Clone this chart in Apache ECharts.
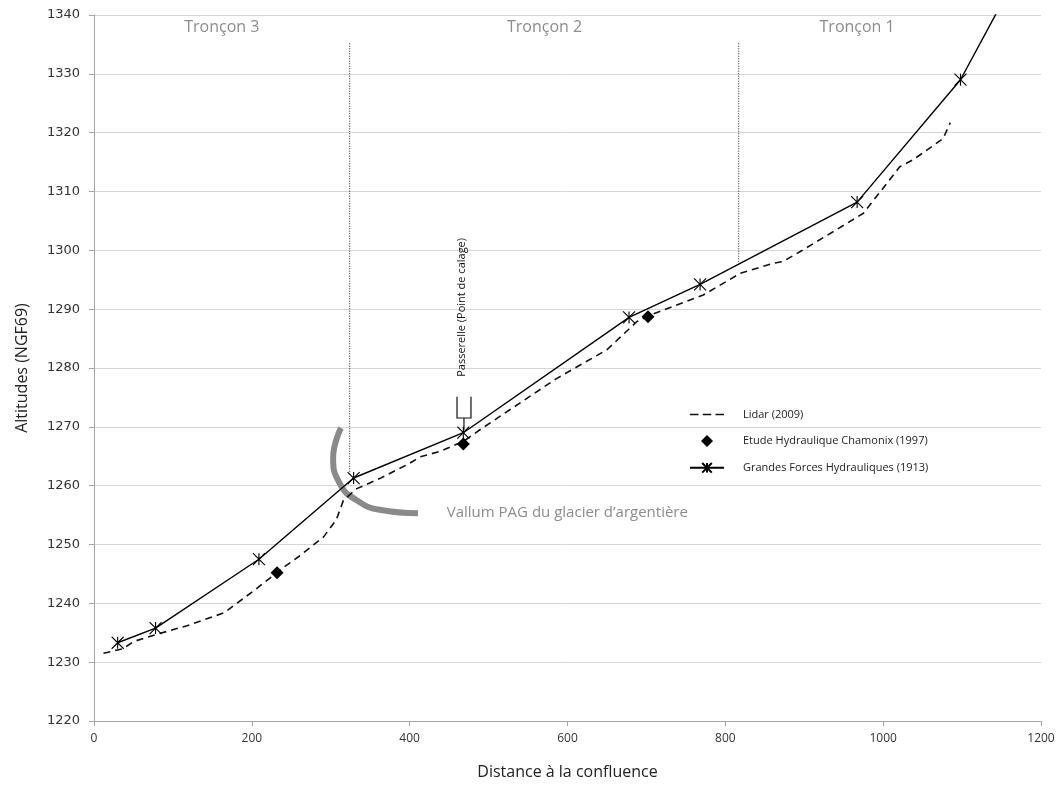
<!DOCTYPE html>
<html><head><meta charset="utf-8">
<script src="https://cdn.jsdelivr.net/npm/echarts@6/dist/echarts.min.js"></script>
<style>html,body{margin:0;padding:0;background:#fff}#c{width:1059px;height:785px}</style>
</head><body><div id="c"></div>
<script>
// ---- data ----
const lidar = [[12,1231.5],[37,1232.3],[50,1233.5],[84,1234.9],[118,1236.2],[165,1238.4],[206,1242.5],[236,1245.7],[260,1248],[291,1251.3],[307,1254.2],[316,1257.5],[333,1259.5],[362,1261.2],[400,1263.8],[413,1264.9],[438,1265.8],[468,1267.5],[489,1269.5],[586,1278.2],[650,1283.1],[688,1287.9],[705,1289],[772,1292.4],[819,1296.1],[861,1297.8],[873,1298.1],[895,1299.8],[937,1303.2],[975,1306.3],[1021,1314.2],[1038,1315.4],[1076,1319],[1085,1321.7]];
const etude = [[232,1245.2],[468,1267.1],[702,1288.7]];
const gfh = [[30,1233.3],[78,1235.8],[209,1247.5],[329,1261.3],[468,1269],[678,1288.6],[768,1294.2],[967,1308.2],[1098,1329]];
const gfhEnd = [1143,1340.2];
const divider1 = [[324,1335.2],[324,1262]];
const divider2 = [[817,1335.2],[817,1297.9]];
const vallumArc = [[313,1269.8],[303,1264.7],[311.7,1260.3],[332,1257.6],[362,1255.9],[410.5,1255.3]];
const troncons = [["Tronçon 3",162,1337.9],["Tronçon 2",571,1337.9],["Tronçon 1",967,1337.9]];
const seriesNames = ["Lidar (2009)","Etude Hydraulique Chamonix (1997)","Grandes Forces Hydrauliques (1913)"];
const vallumLabel = ["Vallum PAG du glacier d’argentière",447,1255.4];
const passerelleLabel = ["Passerelle (Point de calage)",466,1290.3];
const bracket = {left:460,right:477.7,top:1275.1,bottom:1271.5,stemX:468.8,stemBottom:1269.4};

const xMin=0,xMax=1200,xInt=200,yMin=1220,yMax=1340,yInt=10;
const starPath = 'path://M0,0L10,10M10,0L0,10M5,0L5,10';
const diamondPath = 'path://M5,0L10,5L5,10L0,5Z';
const dashPath = 'path://M0,0h8v1.6h-8zM12,0h8v1.6h-8zM24,0h8v1.6h-8z';

const chart = echarts.init(document.getElementById('c'));
const gray = '#a6a6a6';
const gfhData = gfh.map(p=>p).concat([{value:gfhEnd,symbol:'none'}]);
chart.setOption({
  animation:false,
  backgroundColor:'#fff',
  grid:{left:94,right:18,top:15,bottom:64,containLabel:false},
  xAxis:{type:'value',min:xMin,max:xMax,interval:xInt,
    name:'Distance à la confluence',nameLocation:'middle',nameGap:43,
    nameTextStyle:{fontFamily:'Open Sans',fontSize:16,color:'#222'},
    axisLine:{show:true,lineStyle:{color:gray}},
    axisTick:{show:true,length:5,lineStyle:{color:gray}},
    splitLine:{show:false},
    axisLabel:{fontFamily:'Open Sans',fontSize:12,color:'#333',margin:12,formatter:v=>String(v)}},
  yAxis:{type:'value',min:yMin,max:yMax,interval:yInt,
    name:'Altitudes (NGF69)',nameLocation:'middle',nameGap:64,
    nameTextStyle:{fontFamily:'Open Sans',fontSize:16,color:'#222'},
    axisLine:{show:true,lineStyle:{color:gray}},
    axisTick:{show:true,length:5,lineStyle:{color:gray}},
    splitLine:{show:true,lineStyle:{color:'#d6d6d6',width:1}},
    axisLabel:{fontFamily:'DejaVu Sans',fontSize:13,color:'#333',margin:14,formatter:v=>String(v)}},
  legend:{data:[{name:seriesNames[0],icon:dashPath},{name:seriesNames[1],icon:diamondPath},{name:seriesNames[2]}],
    orient:'vertical',left:684,top:404,itemWidth:34,itemHeight:12,itemGap:15,symbolKeepAspect:true,
    textStyle:{fontFamily:'Open Sans',fontSize:11,color:'#222',padding:[0,0,0,14]}},
  series:[
    {name:'div1',type:'line',data:divider1,symbol:'none',silent:true,lineStyle:{color:'#222',width:1,type:[1,1.5]},z:1},
    {name:'div2',type:'line',data:divider2,symbol:'none',silent:true,lineStyle:{color:'#222',width:1,type:[1,1.5]},z:1},
    {name:'arc',type:'line',data:vallumArc,symbol:'none',smooth:0.5,silent:true,lineStyle:{color:'#8a8a8a',width:6,cap:'butt'},z:2},
    {name:seriesNames[0],type:'line',data:lidar,symbol:'none',lineStyle:{color:'#111',width:1.6,type:[7,5]},itemStyle:{color:'#111'},z:3},
    {name:seriesNames[1],type:'scatter',data:etude,symbol:'diamond',symbolSize:13,itemStyle:{color:'#000',opacity:1},z:5},
    {name:seriesNames[2],type:'line',data:gfhData,symbol:starPath,symbolSize:12,showAllSymbol:true,
      lineStyle:{color:'#000',width:1.4},itemStyle:{color:'#000',borderColor:'#000',borderWidth:1.1},z:4,clip:true}
  ]
});
function px(p){return chart.convertToPixel({gridIndex:0},p);}
const g=[];
troncons.forEach(t=>{const p=px([t[1],t[2]]);
  g.push({type:'text',x:p[0],y:p[1],style:{text:t[0],fill:'#8c8c8c',font:'16px "Open Sans"',align:'center',verticalAlign:'middle'}});});
{const p=px([vallumLabel[1],vallumLabel[2]]);
  g.push({type:'text',x:p[0],y:p[1],style:{text:vallumLabel[0],fill:'#8c8c8c',font:'15px "Open Sans"',align:'left',verticalAlign:'middle'}});}
{const p=px([passerelleLabel[1],passerelleLabel[2]]);
  g.push({type:'text',x:p[0],y:p[1],rotation:Math.PI/2,style:{text:passerelleLabel[0],fill:'#111',font:'11px "Open Sans"',align:'center',verticalAlign:'middle'}});}
{const a=px([bracket.left,bracket.top]),b=px([bracket.left,bracket.bottom]),c=px([bracket.right,bracket.bottom]),d=px([bracket.right,bracket.top]);
  g.push({type:'polyline',shape:{points:[a,b,c,d]},style:{stroke:'#111',lineWidth:1.2,fill:null}});
  const s1=px([bracket.stemX,bracket.bottom]),s2=px([bracket.stemX,bracket.stemBottom]);
  g.push({type:'line',shape:{x1:s1[0],y1:s1[1],x2:s2[0],y2:s2[1]},style:{stroke:'#111',lineWidth:1.2}});}
chart.setOption({graphic:g});
</script></body></html>
